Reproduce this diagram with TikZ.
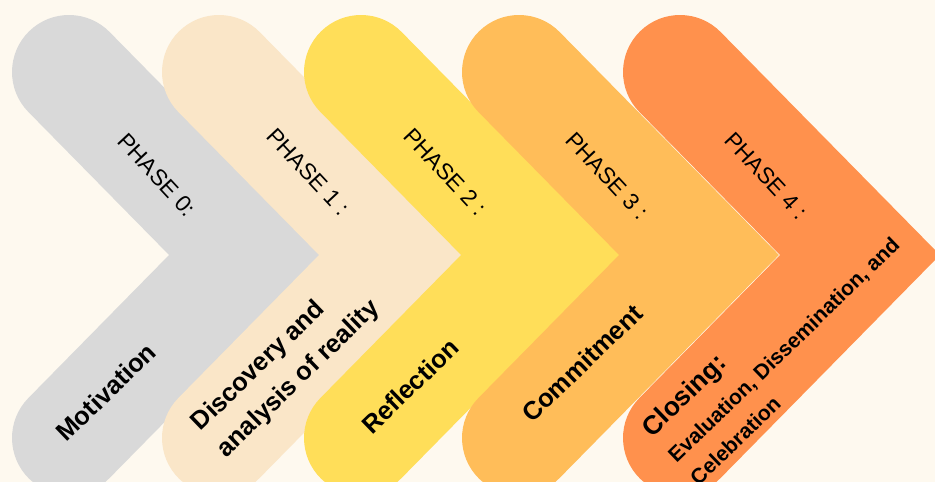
\documentclass[tikz,border=0pt]{standalone}
\usepackage{fontspec}
\setmainfont{Liberation Sans}
\definecolor{bgcream}{HTML}{FEF9EF}
\definecolor{phasegray}{HTML}{D9D9D9}
\definecolor{phasebeige}{HTML}{FAE6C8}
\definecolor{phaseyellow}{HTML}{FFDE59}
\definecolor{phaselight}{HTML}{FFBD59}
\definecolor{phaseorange}{HTML}{FF914D}
\begin{document}
\begin{tikzpicture}[x=0.02cm,y=-0.02cm,
    chevron/.style={line width=2.28cm,line cap=round,line join=miter},
    phasehead/.style={font=\fontsize{13}{16}\selectfont,rotate=-47},
    phasename/.style={font=\bfseries\fontsize{14.5}{17}\selectfont,rotate=44,align=left}]
        \useasboundingbox (0,0) rectangle (935,482);
        \clip (0,0) rectangle (935,482);
        \fill[bgcream] (0,0) rectangle (935,482);
        \foreach \l/\c in {12/phasegray,162/phasebeige,304/phaseyellow,462/phaselight,623/phaseorange}
            \draw[chevron,\c] (\l+57,72) -- (\l+237,255) -- (\l+57,438);
        \node[phasehead] (head0) at (157,175) {PHASE 0:};
        \node[phasehead] (head1) at (308,172) {PHASE 1 :};
        \node[phasehead] (head2) at (445,172) {PHASE 2 :};
        \node[phasehead] (head3) at (607,176) {PHASE 3 :};
        \node[phasehead] (head4) at (766,176) {PHASE 4 :};
        \node[phasename] (name0) at (106,392) {Motivation};
        \node[phasename] (name1) at (286,366) {Discovery and\\[4pt]analysis of reality};
        \node[phasename] (name2) at (410,386) {Reflection};
        \node[phasename] (name3) at (582,363) {Commitment};
        \node[phasename,font=\bfseries\fontsize{12}{15}\selectfont] (name4) at (781,347)
            {{\fontsize{15}{17}\selectfont Closing:}\\[5pt]Evaluation, Dissemination, and\\[3pt]Celebration};
    \end{tikzpicture}
\end{document}
